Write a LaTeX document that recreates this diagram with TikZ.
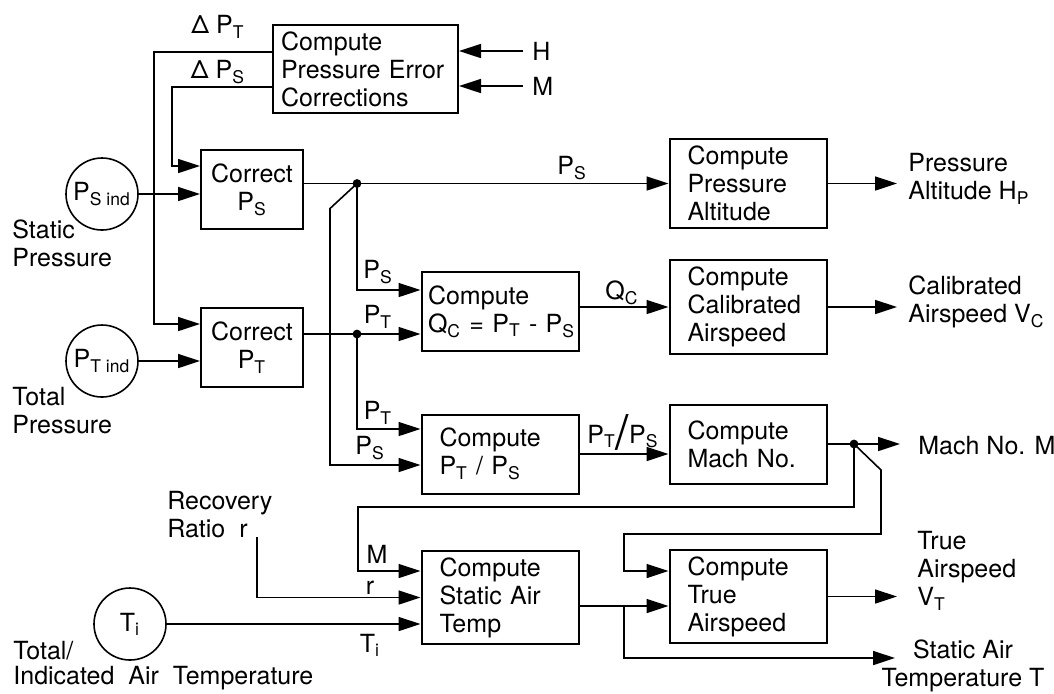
\documentclass[tikz,border=0pt]{standalone}
\usepackage{fontspec}
\setmainfont{TeX Gyre Heros}
\usetikzlibrary{arrows.meta}
\newcommand{\Pidx}[1]{P\textsubscript{#1}}

\begin{document}
\begin{tikzpicture}[x=0.5pt,y=-0.5pt,font=\fontsize{12.5}{14}\selectfont]
\tikzset{block/.style={draw,line width=1pt,align=left,inner xsep=9pt,text width=60.5pt,minimum height=39.5pt},
         corr/.style={draw,line width=1pt,align=center,minimum width=51pt,minimum height=39.5pt},
         sensor/.style={draw,circle,line width=0.8pt,minimum size=36pt,inner sep=0pt},
         wire/.style={line width=0.8pt},
         flow/.style={wire,-{Triangle[length=11pt,width=7pt]}},
         lbl/.style={inner sep=0pt},
         outlbl/.style={anchor=west,align=left,inner sep=0pt}}
\useasboundingbox (0,0) rectangle (1054,693);
% Blocks
\node[block,text width=84.5pt,inner xsep=4pt,minimum height=44pt] (err) at (365.5,69) {Compute\\\mbox{Pressure Error}\\Corrections};
\node[corr] (corPS) at (252,189.5) {Correct\\\Pidx{S}};
\node[corr] (corPT) at (252,347.5) {Correct\\\Pidx{T}};
\node[block,text width=72pt,inner xsep=3.25pt] (qc) at (500,311.5) {Compute\\\mbox{Q\textsubscript{C} = \Pidx{T} - \Pidx{S}}};
\node[block] (ratio) at (500,454) {Compute\\\Pidx{T} / \Pidx{S}};
\node[block,minimum height=44.5pt] (sat) at (500,597.5) {Compute\\Static Air\\Temp};
\node[block,minimum height=44.5pt] (alt) at (748,183.5) {Compute\\Pressure\\Altitude};
\node[block,minimum height=44pt] (cas) at (748,307) {Compute\\Calibrated\\Airspeed};
\node[block] (mach) at (748,444) {Compute\\Mach No.};
\node[block,minimum height=44.5pt] (tas) at (748,596.5) {Compute\\True\\Airspeed};
% Sensors
\node[sensor] (psInd) at (102,194) {\Pidx{S\ ind}};
\node[sensor] (ptInd) at (102,361) {\Pidx{T\ ind}};
\node[sensor] (ti) at (130,624) {T\textsubscript{i}};
\node[outlbl] (lblStatic) at (12,243) {Static\\Pressure};
\node[outlbl] (lblTotal) at (12,411) {Total\\Pressure};
\node[outlbl] (lblRec) at (167,515) {Recovery\\Ratio\ \ r};
\node[outlbl] (lblTemp) at (13,665.5) {Total/\\[-1.5pt]Indicated\ \ Air\ \ Temperature};
% Free ends and junctions
\coordinate (hSrc) at (523,51);
\coordinate (mSrc) at (523,86);
\coordinate (rSrc) at (257,537);
\coordinate (jPS) at (357,183.5);
\coordinate (jPT) at (357,334);
\coordinate (jM) at (854,444);
\coordinate (jT) at (624,606);
\coordinate (bendS) at (358,507);
\coordinate (bendT) at (624,534);
\coordinate (outHP) at (897,183.5);
\coordinate (outVC) at (897,307);
\coordinate (outM) at (900,444);
\coordinate (outVT) at (897,596.5);
\coordinate (outT) at (895,658);
\node[outlbl] (lblH) at (532,51) {H};
\node[outlbl] (lblM) at (532,86) {M};
% Error corrections
\draw[flow] (hSrc) -- (hSrc -| err.east);
\draw[flow] (mSrc) -- (mSrc -| err.east);
\draw[flow] ([yshift=8.5pt]err.west) -- ++(-118,0) |- ([yshift=11.75pt]corPT.west);
\draw[flow] ([yshift=-9pt]err.west) -- ++(-100,0) |- ([yshift=11.75pt]corPS.west);
% Sensor inputs
\draw[flow] (psInd.east) -- (psInd.east -| corPS.west);
\draw[flow] (ptInd.east) -- (ptInd.east -| corPT.west);
\draw[flow] (ti.east) -- (ti.east -| sat.west);
\draw[flow] (rSrc) |- (sat.west);
% Corrected pressures
\draw[flow] (corPS.east |- jPS) -- (jPS -| alt.west);
\draw[flow] (jPS) |- ([yshift=10.75pt]qc.west);
\draw[flow] (jPS) -- ++(-27,25) |- ([yshift=-5.5pt]ratio.west);
\draw[flow] (corPT.east |- jPT) -- (jPT -| qc.west);
\draw[flow] (jPT) |- ([yshift=12.5pt]ratio.west);
\fill (jPS) circle (2.2pt) (jPT) circle (2.2pt);
% Air data outputs
\draw[flow] (cas.west -| qc.east) -- (cas.west);
\draw[flow] (ratio.east) -- (ratio.east -| mach.west);
\draw[flow] (alt.east) -- (outHP);
\draw[flow] (cas.east) -- (outVC);
\draw[flow] (mach.east) -- (outM);
\draw[flow] (jM) -- ++(27,26) |- (bendT) |- ([yshift=12.75pt]tas.west);
\draw[flow] (jM) |- (bendS) |- ([yshift=13.25pt]sat.west);
\draw[flow] (sat.east |- jT) -- (jT -| tas.west);
\draw[flow] (jT) |- (outT);
\draw[flow] (tas.east) -- (outVT);
\fill (jM) circle (2.2pt);
% Signal labels
\node[lbl] (lblDPT) at (218,27) {Δ \Pidx{T}};
\node[lbl] (lblDPS) at (218,72) {Δ \Pidx{S}};
\node[lbl] (lblPSa) at (572,168) {\Pidx{S}};
\node[lbl] (lblPSb) at (378,272) {\Pidx{S}};
\node[lbl] (lblPTa) at (378,317) {\Pidx{T}};
\node[lbl] (lblPTb) at (378,413) {\Pidx{T}};
\node[lbl] (lblPSc) at (370,448) {\Pidx{S}};
\node[lbl] (lblQC) at (622,293) {Q\textsubscript{C}};
\node[lbl] (lblRatio) at (623,432) {\Pidx{T}\raisebox{-3pt}{\fontsize{24}{24}\selectfont/}\Pidx{S}};
\node[lbl] (lblMin) at (377,554) {M};
\node[lbl] (lblRin) at (370,588) {r};
\node[lbl] (lblTi) at (370,645) {T\textsubscript{i}};
% Output labels
\node[outlbl] (lblHP) at (908,179) {Pressure\\Altitude H\textsubscript{P}};
\node[outlbl] (lblVC) at (908,302) {Calibrated\\Airspeed V\textsubscript{C}};
\node[outlbl] (lblMach) at (918,446) {Mach No. M};
\node[outlbl] (lblVT) at (917,571) {True\\Airspeed\\V\textsubscript{T}};
\node[lbl,align=center] (lblT) at (963,666) {Static Air\\Temperature T};
\end{tikzpicture}
\end{document}
